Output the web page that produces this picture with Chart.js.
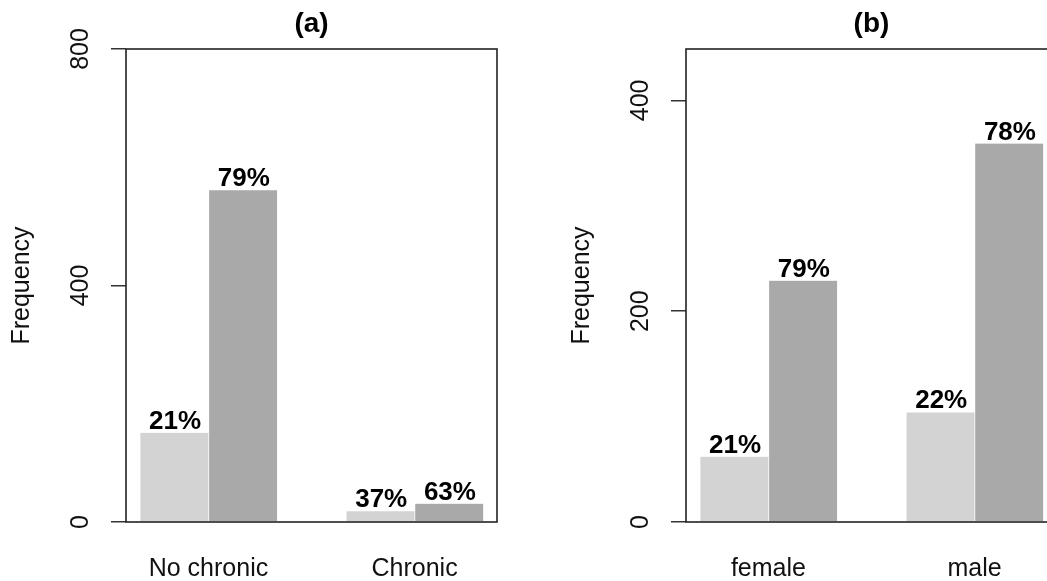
<!DOCTYPE html>
<html>
<head>
<meta charset="utf-8">
<script src="https://cdn.jsdelivr.net/npm/chart.js@4.4.1/dist/chart.umd.min.js"></script>
<style>
  html, body { margin: 0; padding: 0; background: #fff; overflow: hidden; }
  #wrap { position: relative; width: 1047px; height: 581px; overflow: hidden; }
  canvas { position: absolute; top: 0; }
  #panelA { left: 0; }
  #panelB { left: 560px; }
</style>
</head>
<body>
<div id="wrap">
  <canvas id="panelA" width="560" height="581"></canvas>
  <canvas id="panelB" width="520" height="581"></canvas>
</div>
<script>
// Panel (a): chronic condition
const titleA = '(a)';
const categoriesA = ['No chronic', 'Chronic'];
const lightA = [151, 18];
const darkA = [561, 31];
const yMaxA = 800;
const yStepA = 400;

// Panel (b): sex
const titleB = '(b)';
const categoriesB = ['female', 'male'];
const lightB = [62, 104];
const darkB = [229, 359];
const yStepB = 200;

const yTitle = 'Frequency';

const FONT = "'Liberation Sans', Arial, Helvetica, sans-serif";
const LIGHT = '#D3D3D3';
const DARK = '#A9A9A9';
const INK = '#111';

// Side-by-side bars laid out like base R barplot(beside=TRUE):
// one unit of space before each pair, bars one unit wide.
const groupCenter = i => 2 + 3 * i;

// Frame around the plotting region
const boxPlugin = {
  id: 'box',
  afterDatasetsDraw(chart) {
    const { ctx, chartArea: a } = chart;
    ctx.save();
    ctx.strokeStyle = '#222';
    ctx.lineWidth = 1.6;
    ctx.strokeRect(a.left, a.top, a.right - a.left, a.bottom - a.top);
    ctx.restore();
  }
};

// Share of each bar within its pair, written above the bar
const pctPlugin = {
  id: 'pct',
  afterDatasetsDraw(chart, args, opts) {
    const { ctx } = chart;
    const [l, d] = opts.series;
    ctx.save();
    ctx.font = 'bold 26px ' + FONT;
    ctx.fillStyle = '#000';
    ctx.textAlign = 'center';
    ctx.textBaseline = 'alphabetic';
    chart.data.datasets.forEach((ds, di) => {
      const meta = chart.getDatasetMeta(di);
      meta.data.forEach((el, i) => {
        const v = ds.data[i].y;
        const pct = Math.round(100 * v / (l[i] + d[i]));
        ctx.fillText(pct + '%', el.x + 1, el.y - 4);
      });
    });
    ctx.restore();
  }
};

function makePanel(id, title, categories, light, dark, yMax, yStep, rightPad) {
  const toPoints = vals => vals.map((v, i) => ({ x: groupCenter(i) - 0.5, y: v }));
  const toPointsDark = vals => vals.map((v, i) => ({ x: groupCenter(i) + 0.5, y: v }));
  return new Chart(document.getElementById(id), {
    type: 'bar',
    data: {
      datasets: [
        { data: toPoints(light), backgroundColor: LIGHT, borderColor: '#fff',
          borderWidth: { left: 1, right: 0, top: 0, bottom: 0 }, borderSkipped: false },
        { data: toPointsDark(dark), backgroundColor: DARK, borderColor: '#fff',
          borderWidth: { left: 1, right: 0, top: 0, bottom: 0 }, borderSkipped: false }
      ]
    },
    options: {
      responsive: false,
      animation: false,
      grouped: false,
      categoryPercentage: 1,
      barPercentage: 1,
      layout: { padding: { left: 0, right: rightPad, top: 0, bottom: 0 } },
      plugins: {
        legend: { display: false },
        tooltip: { enabled: false },
        title: {
          display: true, text: title, fullSize: false, color: '#000',
          font: { family: FONT, size: 28, weight: 'bold', lineHeight: 1.2 },
          padding: { top: 7, bottom: 8.4 }
        },
        pct: { series: [light, dark] }
      },
      scales: {
        x: {
          type: 'linear',
          offset: false,
          min: 0.8,
          max: 3 * categories.length + 0.2,
          afterBuildTicks: s => { s.ticks = categories.map((c, i) => ({ value: groupCenter(i) })); },
          ticks: {
            autoSkip: false, maxRotation: 0, color: INK, padding: 32,
            font: { family: FONT, size: 25, lineHeight: 1.2 },
            callback: (v, i) => categories[i]
          },
          grid: { display: false, drawTicks: false },
          border: { display: false },
          afterFit: s => { s.height = 59; }
        },
        y: {
          min: 0,
          max: yMax,
          ticks: {
            stepSize: yStep, includeBounds: false,
            minRotation: 90, maxRotation: 90, crossAlign: 'center', padding: 9,
            color: INK, font: { family: FONT, size: 25, lineHeight: 1.2 }
          },
          grid: { drawOnChartArea: false, drawTicks: true, tickLength: 15, color: '#333', lineWidth: 1.5 },
          border: { display: false },
          title: {
            display: true, text: yTitle, color: INK,
            font: { family: FONT, size: 25, lineHeight: 1.2 },
            padding: { top: 7, bottom: 0 }
          },
          afterFit: s => { s.width = 126; }
        }
      }
    },
    plugins: [boxPlugin, pctPlugin]
  });
}

makePanel('panelA', titleA, categoriesA, lightA, darkA, yMaxA, yStepA, 63);
// Panel (b) leaves 25% headroom above its tallest bar
makePanel('panelB', titleB, categoriesB, lightB, darkB,
          Math.max(...lightB, ...darkB) * 1.25, yStepB, 23);
</script>
</body>
</html>
